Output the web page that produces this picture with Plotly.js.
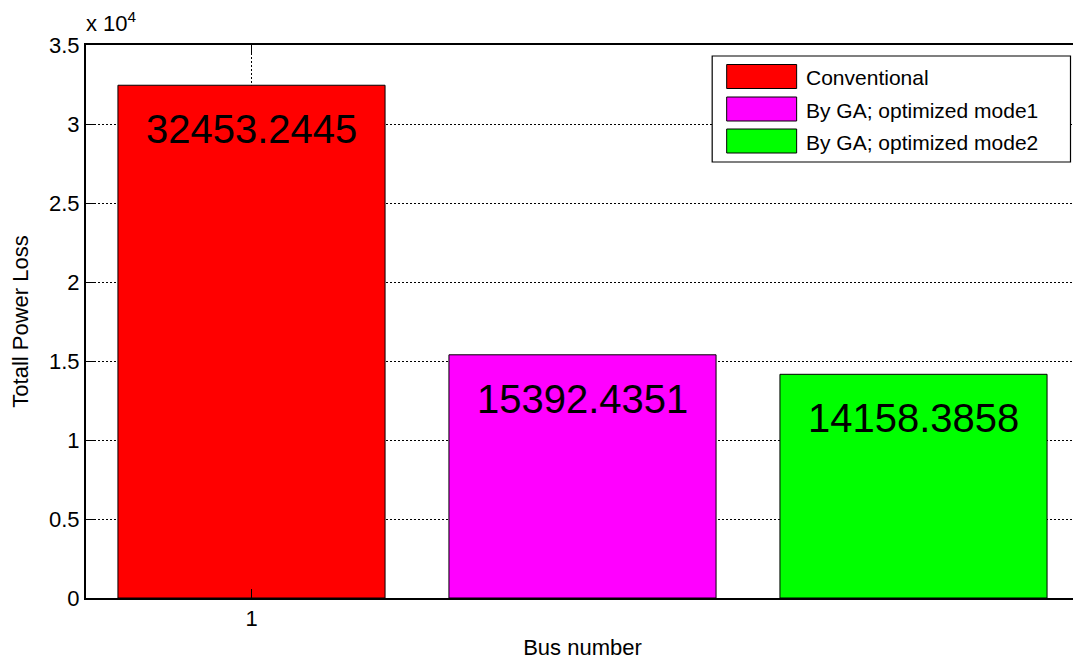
<!DOCTYPE html>
<html>
<head>
<meta charset="utf-8">
<script src="https://cdn.plot.ly/plotly-3.0.1.min.js"></script>
<style>
html, body { margin: 0; padding: 0; overflow: hidden; background: #fff; }
#chart { width: 1100px; height: 660px; }
</style>
</head>
<body>
<div id="chart"></div>
<script>
// ---- data ----
const seriesNames = ["Conventional", "By GA; optimized mode1", "By GA; optimized mode2"];
const seriesValues = [32453.2445, 15392.4351, 14158.3858];
const seriesLabels = ["32453.2445", "15392.4351", "14158.3858"];
const barPositions = [1, 2, 3];
const xTickVals = [1];
const xTickText = ["1"];
const yTickVals = [0, 5000, 10000, 15000, 20000, 25000, 30000, 35000];
const yTickText = ["0", "0.5", "1", "1.5", "2", "2.5", "3", "3.5"];
const seriesColors = ["#ff0000", "#ff00ff", "#00ff00"];

// ---- layout geometry (pixels) ----
const W = 1100, H = 660;
const L = 86, R = 1079.5, T = 45, B = 598;
const PW = R - L, PH = B - T;
const px = x => (x - L) / PW;
const py = y => (B - y) / PH;
const FONT = "Liberation Sans, Arial, Helvetica, sans-serif";

const traces = seriesNames.map((name, i) => ({
  type: "bar",
  name: name,
  x: [barPositions[i]],
  y: [seriesValues[i]],
  width: 0.807,
  marker: { color: seriesColors[i], line: { color: "#000", width: 1 } },
  hoverinfo: "name+y",
  showlegend: false
}));

const annotations = [];
// value labels inside bars
seriesValues.forEach((v, i) => {
  annotations.push({
    x: barPositions[i], y: v, xref: "x", yref: "y",
    text: seriesLabels[i], showarrow: false,
    xanchor: "center", yanchor: "middle", yshift: -44,
    font: { family: FONT, size: 40, color: "#000" }
  });
});
// exponent label
annotations.push({
  x: px(84), y: py(38), xref: "paper", yref: "paper",
  text: "x 10<sup>4</sup>", showarrow: false,
  xanchor: "left", yanchor: "bottom",
  font: { family: FONT, size: 22, color: "#000" }
});

// custom legend (MATLAB style wide swatches)
const shapes = [];
const legLeft = 712.5, legRight = 1071, legTop = 56, legBottom = 162;
shapes.push({
  type: "rect", xref: "paper", yref: "paper", layer: "above",
  x0: px(legLeft), x1: px(legRight), y0: py(legBottom), y1: py(legTop),
  fillcolor: "#fff", line: { color: "#000", width: 1.2 }
});
const rowCenters = [76.5, 109, 141];
seriesNames.forEach((name, i) => {
  const cy = rowCenters[i];
  shapes.push({
    type: "rect", xref: "paper", yref: "paper", layer: "above",
    x0: px(727), x1: px(797), y0: py(cy + 12), y1: py(cy - 12),
    fillcolor: seriesColors[i], line: { color: "#000", width: 1 }
  });
  annotations.push({
    x: px(804), y: py(cy + 1), xref: "paper", yref: "paper",
    text: name, showarrow: false, xanchor: "left", yanchor: "middle",
    font: { family: FONT, size: 21, color: "#000" }
  });
});

const layout = {
  width: W, height: H,
  margin: { l: L, r: W - R, t: T, b: H - B, pad: 0 },
  paper_bgcolor: "#fff", plot_bgcolor: "#fff",
  font: { family: FONT, size: 22, color: "#000" },
  barmode: "overlay",
  showlegend: false,
  xaxis: {
    range: [0.5, 3.5], tickmode: "array", tickvals: xTickVals, ticktext: xTickText,
    ticks: "inside", ticklen: 9, tickwidth: 1, tickcolor: "#000",
    showline: true, linecolor: "#000", linewidth: 2, mirror: "ticks",
    showgrid: true, gridcolor: "#000", gridwidth: 1, griddash: "2px,2px",
    zeroline: false, automargin: false,
    tickfont: { family: FONT, size: 22, color: "#000" },
    title: { text: "Bus number", font: { family: FONT, size: 22, color: "#000" }, standoff: 12 }
  },
  yaxis: {
    range: [0, 35000], tickmode: "array", tickvals: yTickVals, ticktext: yTickText,
    ticks: "inside", ticklen: 9, tickwidth: 1, tickcolor: "#000",
    showline: true, linecolor: "#000", linewidth: 2, mirror: false,
    showgrid: true, gridcolor: "#000", gridwidth: 1, griddash: "2px,2px",
    zeroline: false, automargin: false,
    tickfont: { family: FONT, size: 22, color: "#000" },
    title: { text: "Totall Power Loss", font: { family: FONT, size: 22, color: "#000" }, standoff: 14 }
  },
  annotations: annotations,
  shapes: shapes
};

Plotly.newPlot("chart", traces, layout, { displayModeBar: false });
</script>
</body>
</html>
